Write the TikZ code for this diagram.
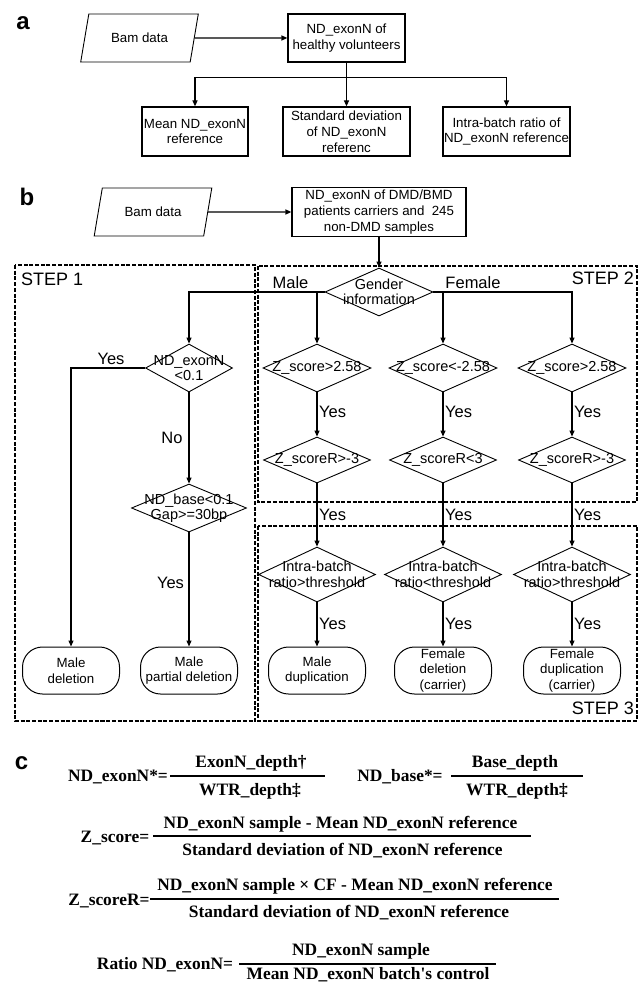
\documentclass[tikz,border=0pt]{standalone}
\usepackage{fontspec}
\setmainfont{Liberation Sans}
\newfontfamily\eqfont{Liberation Serif}
\usetikzlibrary{shapes.geometric,arrows.meta}

\tikzset{
  txt/.style={font=\fontsize{13.3}{15.8}\selectfont, align=center},
  dtxt/.style={font=\fontsize{14.5}{15.5}\selectfont, align=center, inner sep=0pt},
  box/.style={draw, line width=1.2pt, minimum width=#1, minimum height=49pt, inner sep=0pt, txt},
  indata/.style={draw, trapezium, trapezium left angle=65, trapezium right angle=115, trapezium stretches,
    minimum width=118pt, minimum height=48pt, inner sep=0pt, line width=0.9pt, txt},
  decide/.style 2 args={draw, diamond, minimum width=#1, minimum height=48pt, inner sep=0pt,
    line width=0.9pt, label={[dtxt]center:#2}},
  ending/.style={draw, rounded corners=20pt, minimum width=97pt, minimum height=47pt, inner sep=0pt,
    line width=1pt, txt},
  stepbox/.style={draw, line width=1.3pt, dash pattern=on 4pt off 1.7pt},
  stage/.style={font=\fontsize{18}{20}\selectfont, inner sep=0pt},
  flow/.style={line width=1.2pt, -{Triangle[length=6pt,width=5pt]}},
  say/.style={font=\fontsize{16.5}{18}\selectfont, inner sep=0pt},
  part/.style={font=\fontsize{24}{24}\selectfont\bfseries, inner sep=0pt},
  eq/.style={font=\eqfont\bfseries\fontsize{17.4}{20}\selectfont, inner sep=0pt, anchor=base},
  bar/.style={line width=1.8pt},
}

\begin{document}
\begin{tikzpicture}[x=1pt, y=-1pt]
  \useasboundingbox (0,0) rectangle (638,984);

  % a
  \node[part] (pa) at (23,23) {a};
  \node[indata] (bama) at (139.5,38) {Bam data};
  \node[box=117pt, minimum height=48pt] (hv) at (346.5,38) {ND\_exonN of\\healthy volunteers};
  \node[box=106pt] (meanref) at (195,131.5) {Mean ND\_exonN\\reference};
  \node[box=127pt] (sdref) at (346.5,131.5) {Standard deviation\\of ND\_exonN\\referenc};
  \node[box=127pt] (ratioref) at (506.5,131.5) {Intra-batch ratio of\\ND\_exonN reference};

  \draw[flow] (bama) -- (hv);
  \draw[line width=1.2pt] (hv.south) -- ++(0,15) coordinate (splita);
  \draw[flow] (splita) -| (meanref);
  \draw[flow] (splita) -- (sdref);
  \draw[flow] (splita) -| (ratioref);

  % b
  \node[part] (pb) at (27,197) {b};
  \node[indata] (bamb) at (153,212) {Bam data};
  \node[box=174pt] (dmd) at (379,212) {ND\_exonN of DMD/BMD\\patients carriers and\ \ 245\\non-DMD samples};

  \draw[stepbox] (15,265) rectangle (255,721);
  \draw[stepbox] (258,266) rectangle (637,502);
  \draw[stepbox] (258,526) rectangle (637,721);
  \node[stage, anchor=west] (st1) at (21,279) {STEP 1};
  \node[stage, anchor=east] (st2) at (634,278) {STEP 2};
  \node[stage, anchor=east] (st3) at (634,708) {STEP 3};

  \node[decide={108pt}{Gender\\information}] (gender) at (379,292) {};
  \node[decide={87pt}{ND\_exonN\\<0.1}] (nd1) at (189,368) {};
  \node[decide={115pt}{ND\_base<0.1\\Gap>=30bp}] (ndbase) at (189,508) {};

  \node[decide={108pt}{Z\_score>2.58}] (zs1) at (317,368) {};
  \node[decide={108pt}{Z\_score<-2.58}] (zs2) at (443,368) {};
  \node[decide={108pt}{Z\_score>2.58}] (zs3) at (572,368) {};
  \node[decide={107pt}{Z\_scoreR>-3}, minimum height=46pt] (zr1) at (317,460) {};
  \node[decide={107pt}{Z\_scoreR<3}, minimum height=46pt] (zr2) at (443,460) {};
  \node[decide={107pt}{Z\_scoreR>-3}, minimum height=46pt] (zr3) at (572,460) {};
  \node[decide={117pt}{Intra-batch\\ratio>threshold}, minimum height=55pt] (ib1) at (317,574.5) {};
  \node[decide={117pt}{Intra-batch\\ratio<threshold}, minimum height=55pt] (ib2) at (443,574.5) {};
  \node[decide={117pt}{Intra-batch\\ratio>threshold}, minimum height=55pt] (ib3) at (572,574.5) {};

  \node[ending] (maledel) at (71,670.5) {Male\\deletion};
  \node[ending] (malepart) at (189,670.5) {Male\\partial deletion};
  \node[ending] (maledup) at (317,670.5) {Male\\duplication};
  \node[ending] (femdel) at (443,670.5) {Female\\deletion\\(carrier)};
  \node[ending] (femdup) at (572,670.5) {Female\\duplication\\(carrier)};

  \draw[flow] (bamb) -- (dmd);
  \draw[flow] (dmd) -- (gender);
  \draw[flow] (gender.west) -| (nd1);
  \draw[flow] (gender.west -| zs1) -- (zs1);
  \draw[flow] (gender.east) -| (zs3);
  \draw[flow] (gender.east -| zs2) -- (zs2);
  \node[say] (male) at (290.5,283) {Male};
  \node[say] (female) at (473,283) {Female};

  \draw[flow] (nd1.west) -| (maledel);
  \draw[flow] (nd1) -- (ndbase);
  \draw[flow] (ndbase) -- (malepart);
  \node[say] (yes0) at (111,359) {Yes};
  \node[say] (no0) at (172,438) {No};
  \node[say] (yes00) at (170.5,583) {Yes};

  \draw[flow] (zs1) -- (zr1);
  \draw[flow] (zr1) -- (ib1);
  \draw[flow] (ib1) -- (maledup);
  \draw[flow] (zs2) -- (zr2);
  \draw[flow] (zr2) -- (ib2);
  \draw[flow] (ib2) -- (femdel);
  \draw[flow] (zs3) -- (zr3);
  \draw[flow] (zr3) -- (ib3);
  \draw[flow] (ib3) -- (femdup);
  \node[say, anchor=west] (yes11) at (319,412) {Yes};
  \node[say, anchor=west] (yes12) at (319,515) {Yes};
  \node[say, anchor=west] (yes13) at (319,624) {Yes};
  \node[say, anchor=west] (yes21) at (445,412) {Yes};
  \node[say, anchor=west] (yes22) at (445,515) {Yes};
  \node[say, anchor=west] (yes23) at (445,624) {Yes};
  \node[say, anchor=west] (yes31) at (574,412) {Yes};
  \node[say, anchor=west] (yes32) at (574,515) {Yes};
  \node[say, anchor=west] (yes33) at (574,624) {Yes};

  % c
  \node[part] (pc) at (21.5,763.5) {c};

  \node[eq] (lhs1) at (118,781) {ND\_exonN*=};
  \coordinate (bar1a) at (170,776);
  \coordinate (bar1b) at (325,776);
  \draw[bar] (bar1a) -- (bar1b);
  \node[eq] (num1) at (251,767) {ExonN\_depth†};
  \node[eq] (den1) at (250,795) {WTR\_depth‡};

  \node[eq] (lhs2) at (400,781) {ND\_base*=};
  \coordinate (bar2a) at (451,776);
  \coordinate (bar2b) at (583,776);
  \draw[bar] (bar2a) -- (bar2b);
  \node[eq] (num2) at (515,767) {Base\_depth};
  \node[eq] (den2) at (517,795) {WTR\_depth‡};

  \node[eq] (lhs3) at (115,842.5) {Z\_score=};
  \coordinate (bar3a) at (153,836);
  \coordinate (bar3b) at (531,836);
  \draw[bar] (bar3a) -- (bar3b);
  \node[eq] (num3) at (340.5,828) {ND\_exonN sample - Mean ND\_exonN reference};
  \node[eq] (den3) at (342.5,855) {Standard deviation of ND\_exonN reference};

  \node[eq] (lhs4) at (109,905.5) {Z\_scoreR=};
  \coordinate (bar4a) at (150,899);
  \coordinate (bar4b) at (559,899);
  \draw[bar] (bar4a) -- (bar4b);
  \node[eq] (num4) at (355,890.5) {ND\_exonN sample × CF - Mean ND\_exonN reference};
  \node[eq] (den4) at (349,917.5) {Standard deviation of ND\_exonN reference};

  \node[eq] (lhs5) at (165,969.5) {Ratio ND\_exonN=};
  \coordinate (bar5a) at (239,964);
  \coordinate (bar5b) at (496,964);
  \draw[bar] (bar5a) -- (bar5b);
  \node[eq] (num5) at (361,955.5) {ND\_exonN sample};
  \node[eq] (den5) at (368,979) {Mean ND\_exonN batch\textquotesingle s control};
\end{tikzpicture}
\end{document}
